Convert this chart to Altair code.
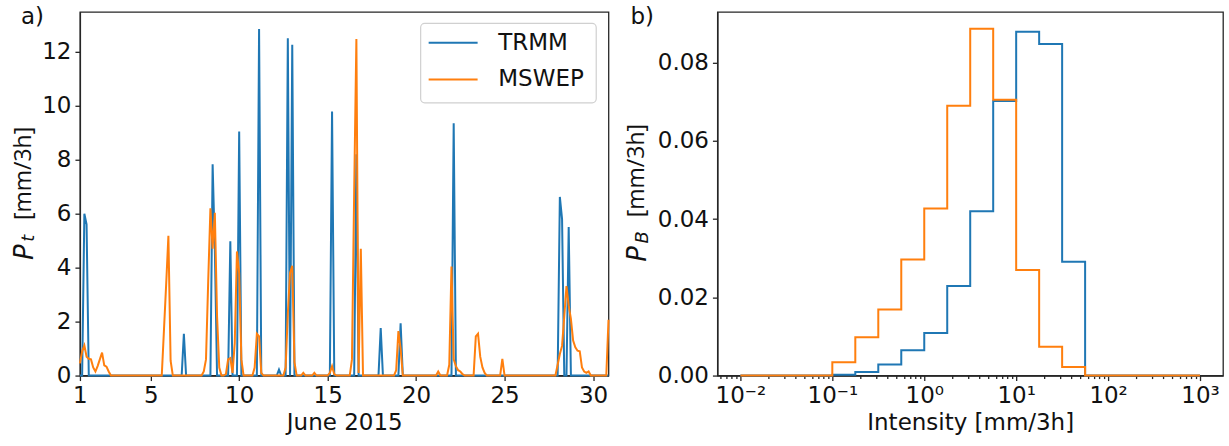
import altair as alt
import pandas as pd

BLUE = "#1f77b4"
ORANGE = "#ff7f0e"
INK = "#111111"
FRAME = "#262626"

# ---------------- panel a) : 3-hourly precipitation, June 2015 ----------------
N_STEPS = 240  # 30 days x 8 three-hour steps, starting 1 June 00:00
tick_days = [1, 5, 10, 15, 20, 25, 30]
ts_yticks = [0, 2, 4, 6, 8, 10, 12]
series_names = ["TRMM", "MSWEP"]

# non-zero 3-hourly values (step index -> mm/3h); all other steps are 0
trmm_idx = [2, 3, 47, 60, 61, 68, 72, 81, 90, 94, 96, 114, 125, 136, 145, 169, 217, 218, 221]
trmm_val = [6.0, 5.6, 1.55, 7.83, 4.7, 4.98, 9.05, 12.84, 0.22, 12.5, 12.26, 9.79, 8.2,
            1.76, 1.94, 9.35, 6.62, 5.8, 5.51]

mswep_idx = [0, 1, 2, 3, 4, 5, 6, 7, 8, 9, 10, 11, 12, 13,
             38, 39, 40, 41,
             56, 57, 58, 59, 60, 61, 62, 63,
             66, 67, 68, 69, 70, 71, 72, 73,
             79, 80, 81, 82,
             93, 94, 95, 96, 97,
             101, 106,
             113, 114, 115,
             123, 124, 125, 126, 127,
             143, 144, 145,
             162,
             167, 168, 169, 170, 171, 172, 173,
             179, 180, 181, 182, 183,
             191,
             216, 217, 218, 219, 220, 221, 222, 223, 224, 225, 226, 227, 228, 229, 230,
             239]
mswep_val = [0.45, 0.9, 1.12, 0.7, 0.62, 0.6, 0.3, 0.15, 0.35, 0.6, 0.85, 0.38, 0.33, 0.15,
             1.7, 3.4, 5.18, 0.55,
             0.15, 0.6, 3.5, 6.2, 4.7, 6.03, 2.2, 0.3,
             0.05, 0.6, 0.65, 0.1, 1.2, 4.6, 3.8, 0.6,
             0.3, 1.55, 1.45, 0.1,
             0.3, 2.3, 3.8, 4.07, 0.5,
             0.1, 0.1,
             0.1, 0.35, 0.05,
             0.6, 6.8, 12.47, 0.1, 4.7,
             0.2, 1.65, 1.0,
             0.15,
             0.4, 4.04, 0.6, 0.35, 0.2, 0.15, 0.05,
             1.45, 1.55, 0.7, 0.3, 0.1,
             0.62,
             0.4, 0.8, 1.1, 2.2, 3.32, 2.6, 2.1, 1.3, 1.05, 0.92, 0.9, 0.3, 0.15, 0.1, 0.15,
             2.07]


def full_series(idx, val):
    s = [0.0] * N_STEPS
    for i, v in zip(idx, val):
        s[i] = v
    return s


days = [1 + i / 8 for i in range(N_STEPS)]
ts_df = pd.DataFrame({
    "day": days + days,
    "P": full_series(trmm_idx, trmm_val) + full_series(mswep_idx, mswep_val),
    "src": ["TRMM"] * N_STEPS + ["MSWEP"] * N_STEPS,
})

# ---------------- panel b) : intensity histogram ----------------
edge_exp = [-2 + k / 4 for k in range(21)]  # bin edges, 4 per decade, 1e-2 .. 1e3
trmm_hist = [0, 0, 0, 0, 0.0002, 0.00094, 0.0028, 0.0065, 0.0109, 0.0229, 0.042,
             0.0702, 0.0879, 0.0848, 0.0291, 0, 0, 0, 0, 0]
mswep_hist = [0, 0, 0, 0, 0.0034, 0.0098, 0.0169, 0.0297, 0.0427, 0.069, 0.0887,
              0.0705, 0.027, 0.0074, 0.0022, 0, 0, 0, 0, 0]
hist_yticks = [0, 0.02, 0.04, 0.06, 0.08]
log_major = [0.01, 0.1, 1, 10, 100, 1000]

edges = [10 ** e for e in edge_exp]
hist_df = pd.DataFrame({
    "x": edges + edges,
    "PB": trmm_hist + [0] + mswep_hist + [0],
    "src": ["TRMM"] * 21 + ["MSWEP"] * 21,
})
minor_ticks = [m * 10.0 ** k for k in range(-3, 4) for m in range(2, 10)
               if 10 ** -2.25 <= m * 10.0 ** k <= 10 ** 3.25]

color_scale = alt.Scale(domain=series_names, range=[BLUE, ORANGE])

W1, W2, H = 529, 506, 364


def label(text, x, y, size, angle=0, italic=False, font="DejaVu Sans", baseline="alphabetic"):
    return alt.Chart(pd.DataFrame({"t": [text]})).mark_text(
        align="left", baseline=baseline, angle=angle, fontSize=size, font=font,
        fontStyle="italic" if italic else "normal", color=INK,
    ).encode(text="t:N", x=alt.value(x), y=alt.value(y))


# ---------- left panel ----------
x_ts = alt.X("day:Q", scale=alt.Scale(domain=[1, 30.875], nice=False, zero=False),
             axis=alt.Axis(values=tick_days, format="d", title="June 2015",
                           labelFlush=False, labelOverlap=False))
y_ts = alt.Y("P:Q", scale=alt.Scale(domain=[0, 13.48], nice=False),
             axis=alt.Axis(values=ts_yticks, format="d", title=None, labelFlush=False))
c_ts = alt.Color("src:N", scale=color_scale, legend=None)

trmm_line = alt.Chart(ts_df).transform_filter(alt.datum.src == "TRMM").mark_line(
    strokeWidth=2).encode(x=x_ts, y=y_ts, color=c_ts)
mswep_line = alt.Chart(ts_df).transform_filter(alt.datum.src == "MSWEP").mark_line(
    strokeWidth=2).encode(x=x_ts, y=y_ts, color=c_ts)

# legend (matplotlib style box, upper right)
legend_box = alt.Chart(pd.DataFrame({"k": [0]})).mark_rect(
    cornerRadius=4, fill="white", fillOpacity=0.8, stroke="#d0d0d0", strokeWidth=1.2
).encode(x=alt.value(341), x2=alt.value(516.7), y=alt.value(11.6), y2=alt.value(91))


def legend_entry(name, yc):
    sym = alt.Chart(pd.DataFrame({"src": [name]})).mark_rule(strokeWidth=2).encode(
        x=alt.value(349), x2=alt.value(398), y=alt.value(yc), color=c_ts)
    txt = label(name, 418.7, yc, 23, baseline="middle")
    return [sym, txt]


left = alt.layer(
    trmm_line, mswep_line,
    legend_box,
    *legend_entry(series_names[0], 31),
    *legend_entry(series_names[1], 67.6),
    label("a)", -59, 12.3, 23),
    label("P", -47.3, 248.3, 26, angle=270, italic=True),
    label("t", -45.7, 230, 18, angle=270, italic=True),
    label("[mm/3h]", -49, 208.3, 23, angle=270, font="Open Sans"),
).properties(width=W1, height=H)

# ---------- right panel ----------
x_major = alt.X("x:Q", scale=alt.Scale(type="log", domain=[10 ** -2.25, 10 ** 3.25], nice=False),
                axis=alt.Axis(values=log_major, title="Intensity [mm/3h]", orient="bottom",
                              labelFlush=False, labelOverlap=False,
                              labelExpr="datum.value < 0.05 ? '10\u207b\u00b2' : datum.value < 0.5 ? '10\u207b\u00b9' : "
                                        "datum.value < 5 ? '10\u2070' : datum.value < 50 ? '10\u00b9' : "
                                        "datum.value < 500 ? '10\u00b2' : '10\u00b3'"))
x_none = alt.X("x:Q", axis=None)
x_minor = alt.X("x:Q", axis=alt.Axis(values=minor_ticks, labels=False, title=None, domain=False,
                                     tickSize=3, orient="bottom"))
y_h = alt.Y("PB:Q", scale=alt.Scale(domain=[0, 0.093], nice=False),
            axis=alt.Axis(values=hist_yticks, format=".2f", title=None, labelFlush=False))
c_h = alt.Color("src:N", scale=color_scale, legend=None)

trmm_step = alt.Chart(hist_df).transform_filter(alt.datum.src == "TRMM").mark_line(
    strokeWidth=2, interpolate="step-after").encode(x=x_major, y=y_h, color=c_h)
mswep_step = alt.Chart(hist_df).transform_filter(alt.datum.src == "MSWEP").mark_line(
    strokeWidth=2, interpolate="step-after").encode(x=x_none, y=y_h, color=c_h)
minor_layer = alt.Chart(hist_df).mark_line(opacity=0).encode(x=x_minor, y=y_h)

right = alt.layer(
    trmm_step, mswep_step, minor_layer,
    label("b)", -87, 12.3, 23),
    label("P", -71.3, 250, 26, angle=270, italic=True),
    label("B", -69.7, 231.7, 18, angle=270, italic=True),
    label("[mm/3h]", -73, 205.5, 23, angle=270, font="Open Sans"),
).resolve_axis(x="independent").properties(width=W2, height=H)

chart = alt.hconcat(left, right, spacing=11).properties(
    padding={"left": 11, "top": 4.7, "right": 5, "bottom": 5}
).configure_view(
    stroke=FRAME, strokeWidth=1.3
).configure_axis(
    grid=False, domainColor=FRAME, domainWidth=1.3, tickColor=FRAME, tickWidth=1.3,
    tickSize=5, labelPadding=4, labelFont="DejaVu Sans", labelFontSize=23, labelColor=INK,
    titleFont="DejaVu Sans", titleFontSize=23, titleColor=INK, titleFontWeight="normal",
    titlePadding=4,
)

chart.save("out.html", embed_options={"renderer": "svg", "actions": False})
